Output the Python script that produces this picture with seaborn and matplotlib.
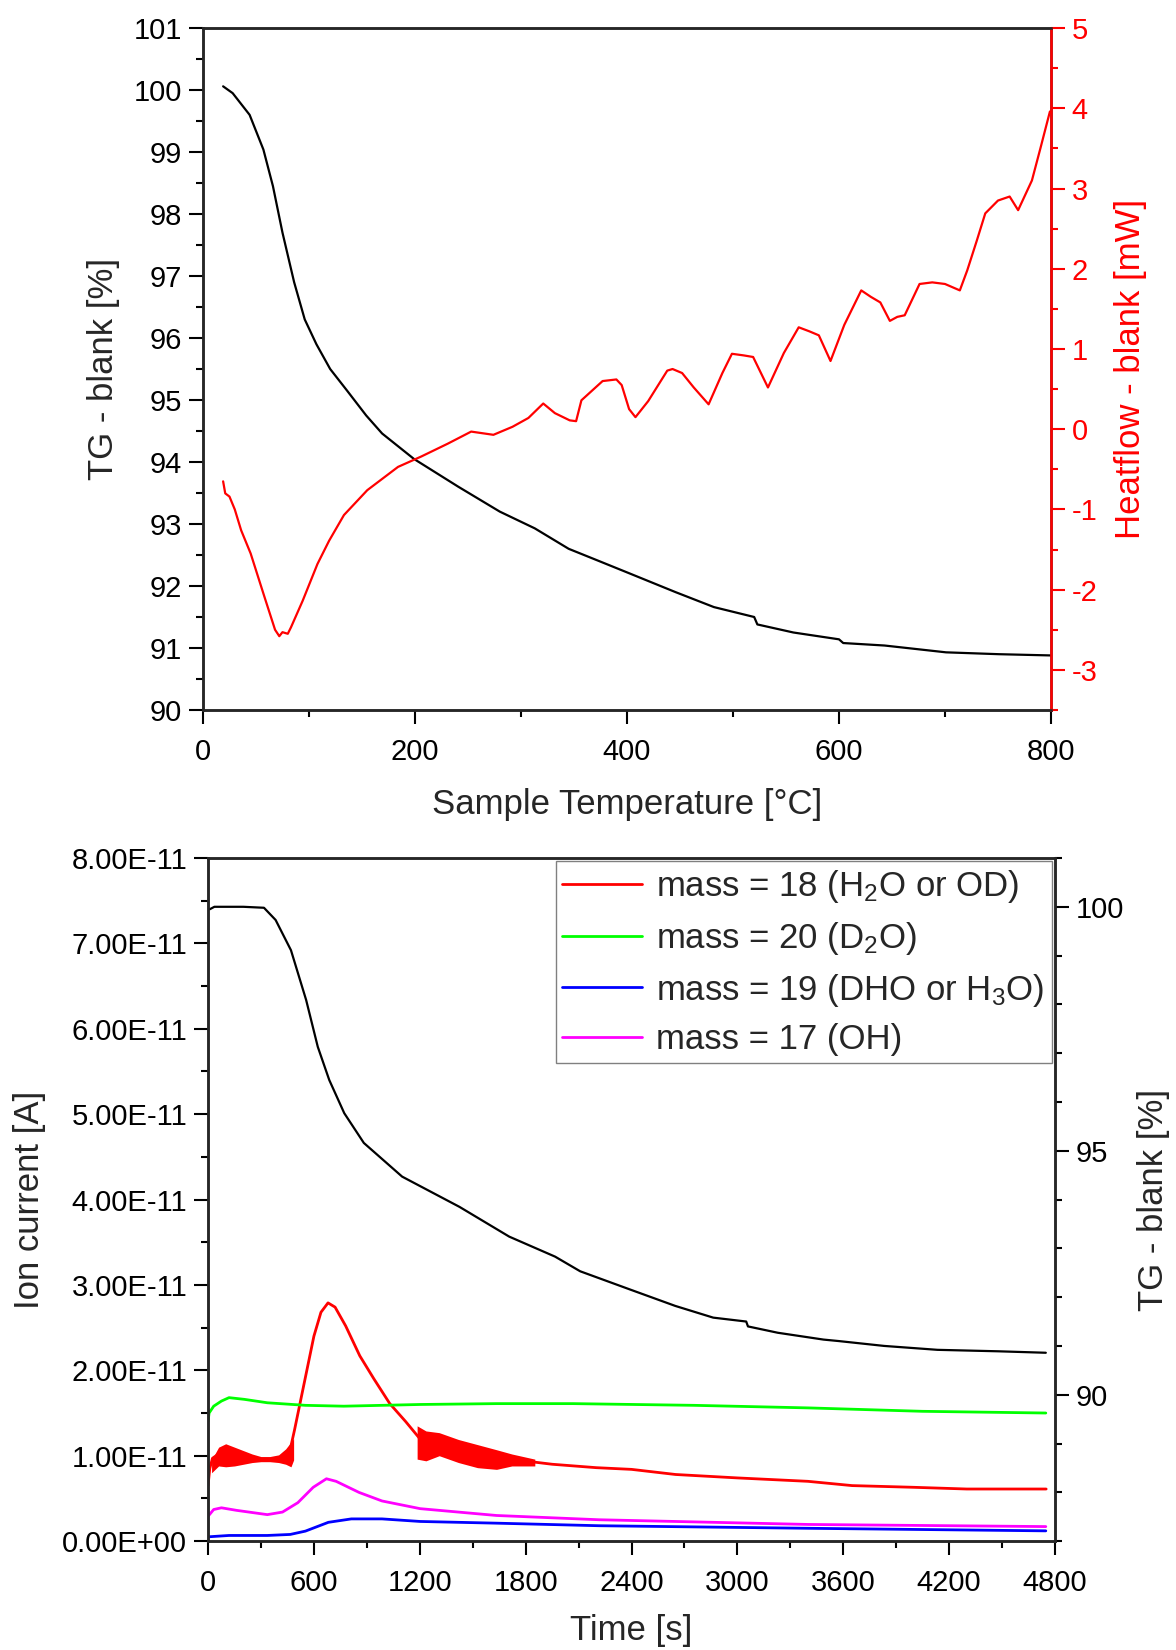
import numpy as np
import matplotlib
matplotlib.use("Agg")
import matplotlib.pyplot as plt
import seaborn as sns
from matplotlib.ticker import MultipleLocator, FuncFormatter

sns.set_style("ticks")
plt.rcParams['font.family'] = ['Liberation Sans', 'DejaVu Sans']
plt.rcParams['mathtext.default'] = 'regular'
plt.rcParams['axes.unicode_minus'] = False

# --- top panel: TG and heatflow vs sample temperature ---
tg_temp = [19, 28, 44, 57, 66, 75, 86, 96, 107, 120, 136, 154, 169, 199, 241, 280, 313,
           345, 374, 400, 446, 482, 520, 523, 557, 600, 604, 643, 701, 751, 800]
tg_val = [100.06, 99.95, 99.6, 99.04, 98.45, 97.7, 96.9, 96.3, 95.9, 95.5, 95.15, 94.75,
          94.46, 94.05, 93.6, 93.2, 92.93, 92.6, 92.4, 92.22, 91.9, 91.66, 91.5, 91.38,
          91.25, 91.14, 91.08, 91.04, 90.93, 90.9, 90.88]

hf_temp = [19, 21, 25, 30, 36, 45, 58, 68, 72, 75, 80, 83, 94, 108, 119, 133, 155, 170,
           184, 206, 231, 253, 274, 292, 307, 321, 332, 346, 352, 357, 377, 390, 395, 402,
           408, 420, 438, 443, 452, 463, 477, 490, 499, 510, 519, 533, 548, 562, 572, 581,
           592, 605, 621, 630, 639, 648, 655, 662, 676, 688, 700, 714, 721, 730, 738, 750,
           761, 769, 782, 790, 799]
hf_val = [-0.65, -0.80, -0.84, -1.0, -1.26, -1.55, -2.09, -2.50, -2.58, -2.53, -2.55,
          -2.47, -2.14, -1.68, -1.39, -1.07, -0.76, -0.61, -0.47, -0.34, -0.18, -0.03,
          -0.07, 0.03, 0.14, 0.32, 0.2, 0.11, 0.10, 0.36, 0.6, 0.62, 0.55, 0.25, 0.15,
          0.35, 0.73, 0.75, 0.70, 0.52, 0.31, 0.70, 0.94, 0.92, 0.9, 0.52, 0.95, 1.27,
          1.22, 1.17, 0.85, 1.30, 1.73, 1.65, 1.58, 1.35, 1.40, 1.42, 1.81, 1.83, 1.81,
          1.73, 1.98, 2.35, 2.69, 2.85, 2.9, 2.73, 3.1, 3.5, 3.96]

# --- bottom panel: ion currents (units of 1E-11 A) and TG vs time ---
tg_time = [10, 36, 200, 317, 383, 470, 556, 622, 687, 772, 883, 1100, 1425, 1707, 1967,
           2109, 2389, 2648, 2863, 3050, 3060, 3229, 3488, 3574, 3832, 4134, 4479, 4748]
tg_time_val = [99.95, 100.0, 100.0, 99.98, 99.73, 99.11, 98.09, 97.13, 96.45, 95.77,
               95.16, 94.47, 93.85, 93.24, 92.83, 92.53, 92.16, 91.82, 91.58, 91.5, 91.4,
               91.27, 91.13, 91.1, 91.0, 90.92, 90.89, 90.86]

m18_t = [0, 10, 25, 60, 120, 200, 300, 400, 460, 490, 520, 560, 600, 640, 680, 720, 780,
         860, 940, 1030, 1120, 1200, 1300, 1400, 1550, 1750, 1950, 2200, 2400, 2650, 3000,
         3400, 3650, 4000, 4300, 4750]
m18_v = [0.65, 0.85, 0.97, 1.02, 1.03, 0.99, 0.96, 0.96, 1.02, 1.3, 1.6, 2.0, 2.4, 2.68,
         2.79, 2.74, 2.52, 2.17, 1.90, 1.61, 1.40, 1.20, 1.12, 1.05, 0.99, 0.95, 0.90, 0.86,
         0.84, 0.78, 0.74, 0.70, 0.65, 0.63, 0.61, 0.61]
# envelopes of the noisy stretches of mass 18
m18_band1_t = [20, 60, 100, 150, 200, 250, 300, 350, 400, 440, 470, 485]
m18_band1_hi = [0.95, 1.10, 1.14, 1.10, 1.06, 1.02, 0.99, 0.99, 1.01, 1.08, 1.16, 1.20]
m18_band1_lo = [0.80, 0.88, 0.87, 0.88, 0.90, 0.92, 0.93, 0.93, 0.92, 0.90, 0.87, 0.95]
m18_band2_t = [1185, 1235, 1310, 1419, 1527, 1635, 1722, 1852]
m18_band2_hi = [1.35, 1.29, 1.27, 1.19, 1.13, 1.07, 1.02, 0.96]
m18_band2_lo = [0.96, 0.94, 1.00, 0.92, 0.86, 0.84, 0.88, 0.88]

m20_t = [0, 6, 32, 76, 119, 206, 336, 552, 769, 986, 1202, 1635, 2069, 2755, 3402, 4048, 4748]
m20_v = [1.40, 1.50, 1.58, 1.64, 1.68, 1.66, 1.62, 1.59, 1.58, 1.59, 1.60, 1.61, 1.61,
         1.59, 1.56, 1.52, 1.50]

m19_t = [0, 119, 336, 466, 552, 682, 812, 986, 1202, 1635, 2216, 3402, 4748]
m19_v = [0.05, 0.066, 0.066, 0.078, 0.117, 0.22, 0.26, 0.26, 0.23, 0.21, 0.18, 0.15, 0.12]

m17_t = [0, 32, 76, 162, 336, 422, 509, 596, 671, 726, 856, 986, 1202, 1635, 2216, 3402, 4748]
m17_v = [0.29, 0.37, 0.39, 0.36, 0.31, 0.34, 0.45, 0.63, 0.73, 0.70, 0.57, 0.47, 0.38,
         0.30, 0.25, 0.195, 0.17]

labels = ["mass = 18 (H$_2$O or OD)", "mass = 20 (D$_2$O)",
          "mass = 19 (DHO or H$_3$O)", "mass = 17 (OH)"]
colors = ["#ff0000", "#00ff00", "#0000ff", "#ff00ff"]

TICK = 21
LAB = 25
RED = "#ff0000"


def style_axis(ax, color="black"):
    ax.tick_params(which="major", direction="out", length=10, width=1.5, labelsize=TICK,
                   color=color, labelcolor=color, pad=5)
    ax.tick_params(which="minor", direction="out", length=5, width=1.5, color=color)
    ax.tick_params(axis="x", which="major", pad=10)


fig = plt.figure(figsize=(11.76, 16.5), dpi=100)

# top panel
ax1 = fig.add_axes([0.1726, 0.5697, 0.7211, 0.4133])
sns.lineplot(x=tg_temp, y=tg_val, ax=ax1, color="black", lw=1.6)
ax1.set_xlim(0, 800)
ax1.set_ylim(90, 101)
ax1.xaxis.set_major_locator(MultipleLocator(200))
ax1.xaxis.set_minor_locator(MultipleLocator(100))
ax1.yaxis.set_major_locator(MultipleLocator(1))
ax1.yaxis.set_minor_locator(MultipleLocator(0.5))
ax1.set_xlabel("Sample Temperature [°C]", fontsize=LAB, labelpad=16)
ax1.set_ylabel("TG - blank [%]", fontsize=LAB, labelpad=10)
style_axis(ax1)

ax1r = ax1.twinx()
sns.lineplot(x=hf_temp, y=hf_val, ax=ax1r, color=RED, lw=1.6)
ax1r.set_ylim(-3.5, 5)
ax1r.yaxis.set_major_locator(MultipleLocator(1))
ax1r.yaxis.set_minor_locator(MultipleLocator(0.5))
ax1r.set_ylabel("Heatflow - blank [mW]", fontsize=LAB, color=RED, labelpad=12)
style_axis(ax1r, RED)
for ax in (ax1, ax1r):
    for s in ax.spines.values():
        s.set_linewidth(1.8)
ax1r.spines["right"].set_color(RED)

# bottom panel
ax2 = fig.add_axes([0.1769, 0.066, 0.7202, 0.414])
series = [(m18_t, m18_v), (m20_t, m20_v), (m19_t, m19_v), (m17_t, m17_v)]
handles = []
for (t, v), c, lab in zip(series, colors, labels):
    sns.lineplot(x=t, y=np.array(v) * 1e-11, ax=ax2, color=c, lw=2.0)
    handles.append(plt.Line2D([], [], color=c, lw=2.0, label=lab))
ax2.fill_between(m18_band1_t, np.array(m18_band1_lo) * 1e-11,
                 np.array(m18_band1_hi) * 1e-11, color=RED, lw=0)
ax2.fill_between(m18_band2_t, np.array(m18_band2_lo) * 1e-11,
                 np.array(m18_band2_hi) * 1e-11, color=RED, lw=0)
ax2.set_xlim(0, 4800)
ax2.set_ylim(0, 8e-11)
ax2.xaxis.set_major_locator(MultipleLocator(600))
ax2.xaxis.set_minor_locator(MultipleLocator(300))
ax2.yaxis.set_major_locator(MultipleLocator(1e-11))
ax2.yaxis.set_minor_locator(MultipleLocator(0.5e-11))
ax2.yaxis.set_major_formatter(FuncFormatter(lambda v, p: f"{v:.2E}"))
ax2.yaxis.get_offset_text().set_visible(False)
ax2.set_xlabel("Time [s]", fontsize=LAB, labelpad=12)
ax2.set_ylabel("Ion current [A]", fontsize=LAB, labelpad=12)
style_axis(ax2)

ax2r = ax2.twinx()
sns.lineplot(x=tg_time, y=tg_time_val, ax=ax2r, color="black", lw=1.6)
ax2r.set_ylim(87, 101)
ax2r.yaxis.set_major_locator(MultipleLocator(5))
ax2r.yaxis.set_minor_locator(MultipleLocator(1))
ax2r.set_ylabel("TG - blank [%]", fontsize=LAB, labelpad=9)
style_axis(ax2r)
for ax in (ax2, ax2r):
    for s in ax.spines.values():
        s.set_linewidth(1.8)

leg = ax2r.legend(handles=handles, loc="upper right", fontsize=LAB, frameon=True,
                  fancybox=False, edgecolor="#808080", framealpha=1,
                  handlelength=2.3, handletextpad=0.4, labelspacing=0.42,
                  borderpad=0.2, borderaxespad=0.1)
leg.get_frame().set_linewidth(1.0)

fig.savefig("out.png", dpi=100)
